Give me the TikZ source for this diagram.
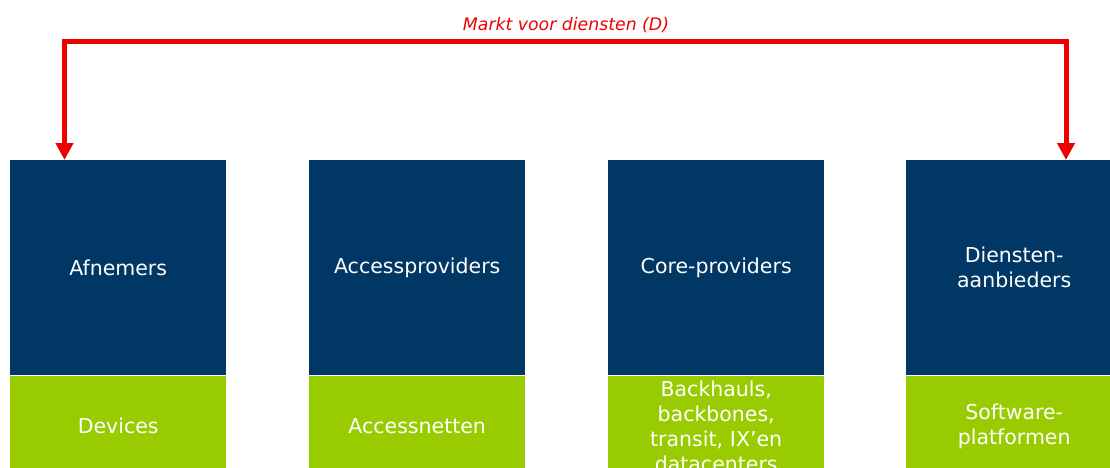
\documentclass[tikz,border=0pt]{standalone}
\usepackage{fontspec}
\setmainfont{DejaVu Sans}
\usetikzlibrary{arrows.meta}
\definecolor{navy}{RGB}{0,55,100}
\definecolor{lime}{RGB}{153,204,0}
\definecolor{mred}{RGB}{238,0,0}
\begin{document}
\begin{tikzpicture}[x=1pt,y=-1pt,
  topbox/.style={anchor=north west,fill=navy,text=white,minimum width=216pt,minimum height=215pt,inner sep=0pt,align=center,text width=210pt,font=\fontsize{20.5}{25}\selectfont},
  botbox/.style={anchor=north west,fill=lime,text=white,minimum width=216pt,minimum height=100pt,inner sep=0pt,align=center,text width=210pt,font=\fontsize{20.5}{25}\selectfont},
  market/.style={draw=mred,line width=5pt,{Triangle[width=17pt,length=17pt]}-{Triangle[width=17pt,length=17pt]}}]
\useasboundingbox (0,0) rectangle (1110,468);
\clip (0,0) rectangle (1110,468);
\node[topbox] (t1) at (10,160) {Afnemers};
\node[topbox] (t2) at (309,160) {Accessproviders};
\node[topbox] (t3) at (608,160) {Core-providers};
\node[topbox] (t4) at (906,160) {Diensten-\\aanbieders};
\node[botbox] (b1) at (10,376) {Devices};
\node[botbox] (b2) at (309,376) {Accessnetten};
\node[botbox] (b3) at (608,376) {Backhauls,\\backbones,\\transit, IX’en\\datacenters};
\node[botbox] (b4) at (906,376) {Software-\\platformen};
\coordinate (la) at (64.5,160);
\coordinate (ra) at (1066,160);
\draw[market] (la) -- (64.5,41.5) -- (1066,41.5) -- (ra);
\node[text=mred,font=\fontsize{17.3}{20}\selectfont\itshape] (mt) at (566,25) {Markt voor diensten (D)};
\end{tikzpicture}
\end{document}
